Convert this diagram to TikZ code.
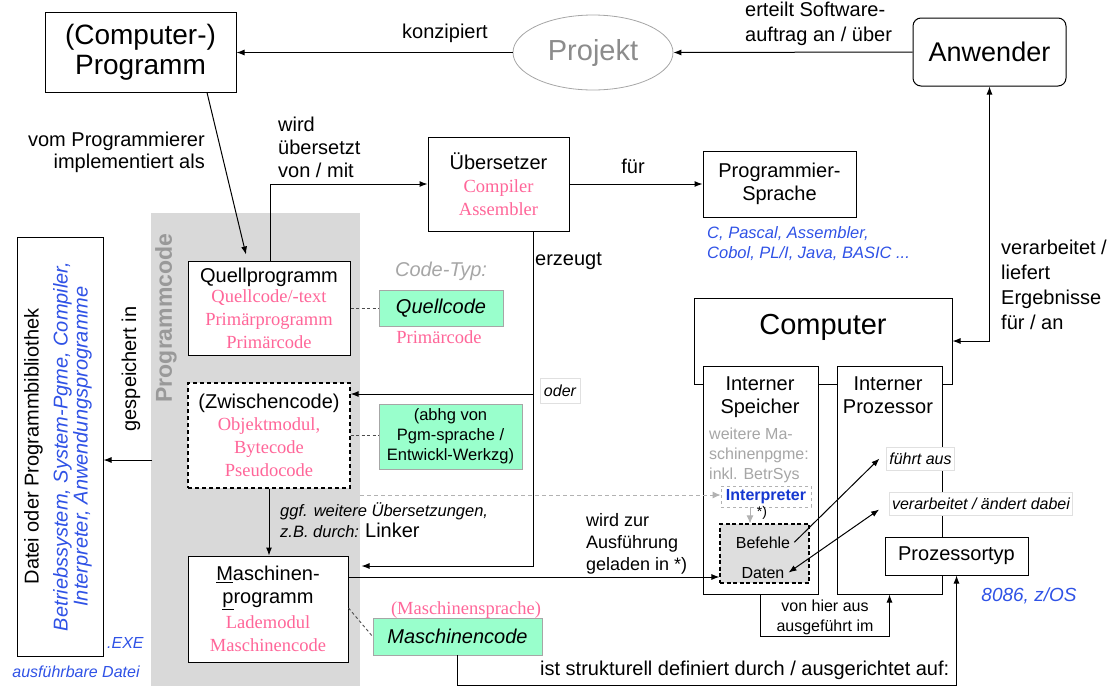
\documentclass[tikz,border=0pt]{standalone}
\usepackage{fontspec}
\setmainfont{Liberation Sans}
\newfontfamily\timesfont{Liberation Serif}
\usepackage{tikz}
\usetikzlibrary{arrows.meta,positioning,shapes.geometric}

\definecolor{pinktext}{HTML}{FF6699}
\definecolor{bluetext}{HTML}{2F52E6}
\definecolor{interblue}{HTML}{1638D0}
\definecolor{mint}{HTML}{99FFCC}
\definecolor{bandgrey}{HTML}{D9D9D9}

\newcommand{\pinkserif}{\timesfont\color{pinktext}\fontsize{18.5}{23}\selectfont}

\tikzset{
  box/.style={draw, line width=1pt, fill=white, align=center, inner sep=0pt, font=\fontsize{20}{23}\selectfont},
  codebox/.style={draw=black!35, line width=0.8pt, fill=mint, align=center, inner sep=0pt},
  tag/.style={draw=black!12, line width=0.8pt, fill=white, inner sep=2.5pt, minimum height=23pt, font=\itshape\fontsize{16}{19}\selectfont},
  txt/.style={inner sep=0pt, font=\fontsize{20}{23}\selectfont},
  arrow/.style={line width=1pt, -{Latex[length=8pt,width=6pt]}},
  dblarrow/.style={line width=1pt, {Latex[length=8pt,width=6pt]}-{Latex[length=8pt,width=6pt]}},
  greyarrow/.style={draw=black!30, line width=1pt, -{Latex[length=8pt,width=7pt]}},
  dashline/.style={line width=0.9pt, black!70, dash pattern=on 3pt off 2.5pt},
}

\begin{document}
\begin{tikzpicture}[x=1pt, y=-1pt]
\useasboundingbox (0,0) rectangle (1112,686);
\fill[bandgrey] (151,213) rectangle (360,686);

% top row
\node[box, minimum width=191pt, minimum height=80pt, font=\fontsize{28}{30}\selectfont] (prog) at (140.5,52) {(Computer-)\\Programm};
\node[ellipse, draw=black!35, line width=0.8pt, minimum width=160pt, minimum height=75pt, text=black!45, font=\fontsize{29}{32}\selectfont] (projekt) at (593,52.5) {Projekt};
\node[box, rounded corners=8pt, minimum width=153pt, minimum height=68pt, font=\fontsize{27}{30}\selectfont] (anwender) at (989.5,52) {Anwender};
\node[txt, anchor=base] at (445,38.5) {konzipiert};
\node[txt, anchor=north west, align=left, font=\fontsize{20}{25}\selectfont] at (745,2) {erteilt Software-\\auftrag an / über};
\draw[arrow] (anwender.west) -- (projekt.east);
\draw[arrow] (projekt.west) -- (projekt.west -| prog.east);

% uebersetzer und sprache
\node[box, minimum width=141pt, minimum height=94pt] (uebersetzer) at (498.5,184) {Übersetzer\\\pinkserif Compiler\\\pinkserif Assembler};
\node[box, minimum width=153pt, minimum height=66pt] (sprache) at (779.5,184) {Programmier-\\Sprache};
\node[txt, anchor=north west, align=left, text=bluetext, font=\itshape\fontsize{16.5}{20}\selectfont] at (707,226) {C, Pascal, Assembler,\\Cobol, PL/I, Java, BASIC ...};
\draw[arrow] (uebersetzer.east) -- (sprache.west);
\node[txt, anchor=base] at (633,173) {für};
\node[txt, anchor=north east, align=right, font=\fontsize{20}{21.5}\selectfont] at (205,132) {vom Programmierer\\implementiert als};
\node[txt, anchor=north west, align=left] at (278,117) {wird\\übersetzt\\von / mit};

% programmcode
\node[rotate=90, text=black!40, font=\bfseries\fontsize{23}{26}\selectfont] at (166,318) {Programmcode};
\node[box, minimum width=162pt, minimum height=94pt] (quellprog) at (269,308) {Quellprogramm\\[-3pt]\pinkserif Quellcode/-text\\\pinkserif Primärprogramm\\\pinkserif Primärcode};
\node[box, dashed, dash pattern=on 4pt off 3pt, line width=1.2pt, minimum width=162pt, minimum height=105pt] (zwischen) at (269,435.5) {(Zwischencode)\\[-1pt]\pinkserif Objektmodul,\\\pinkserif Bytecode\\\pinkserif Pseudocode};
\node[box, minimum width=160pt, minimum height=106pt] (maschprog) at (268,609) {\underline{M}aschinen-\\\underline{p}rogramm\\[2pt]\pinkserif Lademodul\\\pinkserif Maschinencode};

% code-typ
\node[txt, anchor=base, text=black!35, font=\itshape\fontsize{20}{23}\selectfont] at (441,276) {Code-Typ:};
\node[codebox, minimum width=124pt, minimum height=36pt, font=\itshape\fontsize{20}{23}\selectfont] (quellcode) at (441,308) {Quellcode};
\node[txt, anchor=base, text=pinktext, font=\timesfont\fontsize{18.5}{23}\selectfont] at (439,343) {Primärcode};
\node[codebox, minimum width=143pt, minimum height=65pt, font=\fontsize{16.5}{20}\selectfont] (abhg) at (450.5,436.5) {(abhg von\\Pgm-sprache /\\Entwickl-Werkzg)};
\node[txt, anchor=base, text=pinktext, font=\timesfont\fontsize{18.5}{23}\selectfont] at (466,614) {(Maschinensprache)};
\node[codebox, minimum width=169pt, minimum height=37pt, font=\itshape\fontsize{20}{23}\selectfont] (maschcode) at (457.5,636.5) {Maschinencode};
\draw[dashline] (quellprog.east) -- (quellcode.west);
\draw[dashline] (zwischen.east) -- (zwischen.east -| abhg.west);
\draw[dashline] ([yshift=1pt]maschprog.east) -- (maschcode.west);

% uebersetzungswege
\draw[arrow] ([xshift=66.5pt]prog.south) -- ([shift={(-23pt,6pt)}]quellprog.north);
\draw[arrow] ([xshift=1pt]quellprog.north) |- (uebersetzer.west);
\coordinate (split) at (533,394);
\draw[arrow] (uebersetzer.south -| split) |- ([shift={(13pt,43pt)}]maschprog.east);
\draw[arrow] (split) -- (split -| zwischen.east);
\node[txt, anchor=base west] at (535,265) {erzeugt};
\node[tag, minimum width=40pt, minimum height=25pt] (oder) at (560,390.5) {oder};
\draw[arrow] (zwischen.south) -- (zwischen.south |- maschprog.north);
\node[txt, anchor=north west, align=left, font=\itshape\fontsize{16.5}{21}\selectfont] at (280,502) {ggf. weitere Übersetzungen,\\z.B. durch: {\upshape\fontsize{20}{21}\selectfont Linker}};

% datei
\node[box, minimum width=86pt, minimum height=419pt] (datei) at (60,446.5) {};
\node[rotate=90, align=center, inner sep=0pt, font=\fontsize{20}{20}\selectfont] at (58,446.5) {Datei oder Programmbibliothek\\[9pt]\textcolor{bluetext}{\itshape Betriebssystem, System-Pgme, Compiler,}\\\textcolor{bluetext}{\itshape Interpreter, Anwendungsprogramme}};
\node[txt, anchor=base west, text=bluetext, font=\itshape\fontsize{16}{19}\selectfont] at (107,648) {.EXE};
\node[txt, anchor=base, text=bluetext, font=\itshape\fontsize{16}{19}\selectfont] at (76,677) {ausführbare Datei};
\node[txt, rotate=90] at (131,369) {gespeichert in};
\coordinate (band) at (152,460);
\draw[arrow] (band) -- (band -| datei.east);

% computer
\node[box, minimum width=258pt, minimum height=86pt] (computer) at (823,341) {};
\node[txt, anchor=base, font=\fontsize{29}{32}\selectfont] at (823,334) {Computer};
\node[box, minimum width=115pt, minimum height=228pt] (speicher) at (760.5,480) {};
\node[box, minimum width=105pt, minimum height=228pt] (prozessor) at (889.5,480) {};
\node[txt, anchor=north, align=center] at (760,377) {Interner\\Speicher};
\node[txt, anchor=north, align=center] at (888,377) {Interner\\Prozessor};
\node[txt, anchor=north west, align=left, text=black!35, font=\fontsize{16}{20}\selectfont] at (709,428) {weitere Ma-\\schinenpgme:\\inkl. BetrSys};
\node[draw=black!30, dashed, line width=0.8pt, minimum width=90pt, minimum height=21pt, inner sep=0pt, text=interblue, font=\bfseries\fontsize{16}{19}\selectfont] (interpreter) at (766,496.5) {Interpreter};
\node[draw, dash pattern=on 4pt off 2.5pt, line width=1.1pt, fill=black!13, minimum width=89pt, minimum height=59pt] (befehle) at (764.5,553.5) {};
\node[inner sep=4pt, anchor=base, font=\fontsize{16}{19}\selectfont] (bef) at (763,548) {Befehle};
\node[inner sep=4pt, anchor=base, font=\fontsize{16}{19}\selectfont] (dat) at (763,578) {Daten};
\node[txt, font=\fontsize{14}{16}\selectfont] at (762,513) {*)};
\coordinate (zwout) at (360,495);
\draw[greyarrow, dash pattern=on 4pt off 3pt] (zwout) -- (zwout -| interpreter.west);
\draw[greyarrow] ([xshift=-16pt]interpreter.south) -- ([xshift=-16pt]interpreter.south |- befehle.north);
\node[tag] (fuehrt) at (920.5,458.5) {führt aus};
\node[tag] (veraendert) at (981,503.5) {verarbeitet / ändert dabei};
\node[box, minimum width=143pt, minimum height=38pt] (ptyp) at (956.5,556) {Prozessortyp};
\node[txt, anchor=base, text=bluetext, font=\itshape\fontsize{19}{22}\selectfont] at (1029,601.5) {8086, z/OS};
\draw[arrow] (bef.east) -- ([xshift=-7pt]fuehrt.west);
\draw[dblarrow] (dat.east) -- ([shift={(-10pt,-6pt)}]veraendert.west);

% laden und ausfuehren
\draw[arrow] ([yshift=32pt]maschprog.east) -- ([yshift=32pt]maschprog.east -| befehle.west);
\node[txt, anchor=north west, align=left, font=\fontsize{18}{22}\selectfont] at (586,513.5) {wird zur\\Ausführung\\geladen in *)};
\draw[arrow] (speicher.south) |- ++(0,42) -| (prozessor.south);
\node[txt, anchor=north, align=center, font=\fontsize{16}{20}\selectfont] at (825,600) {von hier aus\\ausgeführt im};
\draw[arrow] (maschcode.south) -- ++(0,30) -| (ptyp.south);
\node[txt, anchor=base west] at (540,675) {ist strukturell definiert durch / ausgerichtet auf:};

% anwender
\draw[dblarrow] (anwender.south) |- (computer.east);
\node[txt, anchor=north west, align=left, font=\fontsize{20}{25}\selectfont] at (1001,240) {verarbeitet /\\liefert\\Ergebnisse\\für / an};
\end{tikzpicture}
\end{document}
